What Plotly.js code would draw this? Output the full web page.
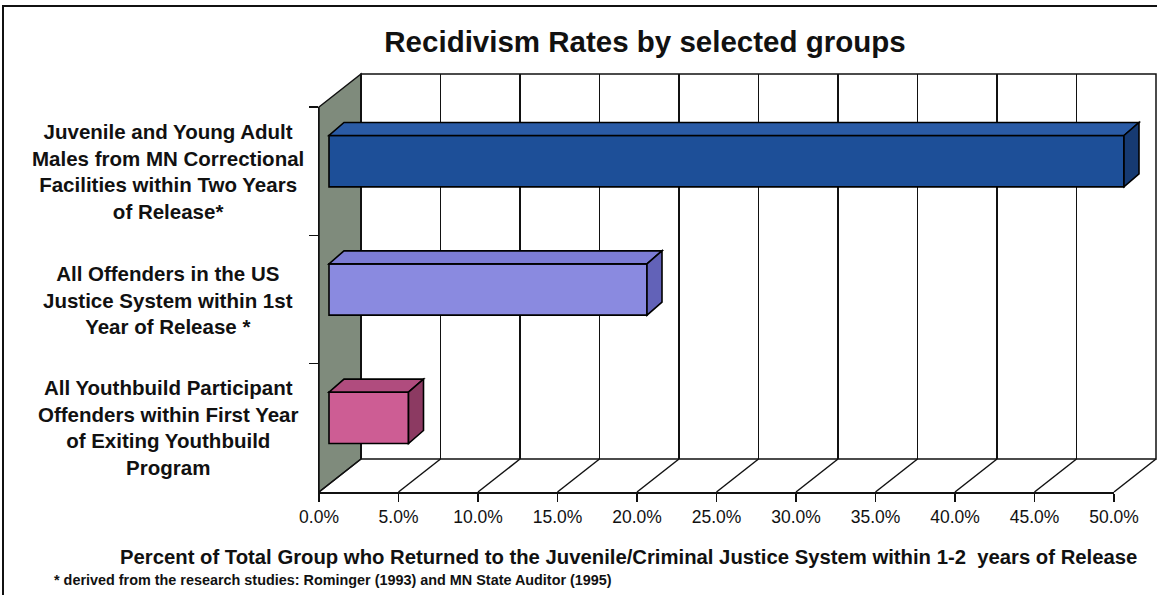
<!DOCTYPE html>
<html>
<head>
<meta charset="utf-8">
<script src="https://cdn.plot.ly/plotly-3.0.1.min.js"></script>
<style>html,body{margin:0;padding:0;background:#fff;}#chart{width:1157px;height:595px;}</style>
</head>
<body>
<div id="chart"></div>
<script>
// ---- data ----
const categories = [
  "Juvenile and Young Adult<br>Males from MN Correctional<br>Facilities within Two Years<br>of Release*",
  "All Offenders in the US<br>Justice System within 1st<br>Year of Release *",
  "All Youthbuild Participant<br>Offenders within First Year<br>of Exiting Youthbuild<br>Program"
];
const values = [50, 20, 5];
const tickValues = [0, 5, 10, 15, 20, 25, 30, 35, 40, 45, 50];
const tickLabels = ["0.0%", "5.0%", "10.0%", "15.0%", "20.0%", "25.0%", "30.0%", "35.0%", "40.0%", "45.0%", "50.0%"];
const titleText = "<b>Recidivism Rates by selected groups</b>";
const xTitleText = "<b>Percent of Total Group who Returned to the Juvenile/Criminal Justice System within 1-2  years of Release</b>";
const noteText = "<b>* derived from the research studies: Rominger (1993) and MN State Auditor (1995)</b>";

// ---- styles ----
const frontColors = ["#1d4f98", "#8a8ae0", "#cd5d94"];
const topColors   = ["#2a5ba6", "#7c7cd4", "#b04c7e"];
const sideColors  = ["#163a72", "#6262b8", "#8c3a62"];

const sans = '"Liberation Sans", Arial, sans-serif';

// ---- geometry of the pseudo-3D frame (pixels) ----
const W = 1157, H = 595;
const m = {l: 319, r: 0, t: 74, b: 103};
const PW = W - m.l - m.r, PH = H - m.t - m.b;
const FRONT_END = 1114;
const SCALE = (FRONT_END - m.l) / 50;
const DX = 42, DY = 33;
const BX = 10, BY = 10;
const BDX = 15, BDY = 13;
const px = x => (x - m.l) / PW;
const py = y => (H - m.b - y) / PH;
const frontTop = 107, frontBottom = H - m.b, backTop = m.t, backBottom = frontBottom - DY;

// ---- traces ----
const ghostBack = {type: 'scatter', x: [0], y: [0], mode: 'none', xaxis: 'x', yaxis: 'y', hoverinfo: 'skip'};
const ghostFront = {type: 'scatter', x: categories.map(() => 0), y: categories, mode: 'none', xaxis: 'x2', yaxis: 'y2', hoverinfo: 'skip'};
const bars = {
  type: 'bar', orientation: 'h', y: categories, x: values, xaxis: 'x3', yaxis: 'y3',
  marker: {color: frontColors, line: {color: '#000', width: 1.6}}, hoverinfo: 'x+y'
};

const hw = 0.2;
const ddx = BDX / SCALE;
const band = (frontBottom - frontTop) / 3;
const ddy = BDY / band;
const shapes = [];
shapes.push({type: 'rect', xref: 'paper', yref: 'paper', x0: px(m.l + DX), x1: px(W - 1), y0: py(backBottom), y1: py(backTop),
  fillcolor: 'rgba(0,0,0,0)', line: {color: '#111', width: 1.5}, layer: 'below'});
shapes.push({type: 'path', xref: 'paper', yref: 'paper', layer: 'below',
  path: `M ${px(m.l)},${py(frontTop)} L ${px(m.l + DX)},${py(backTop)} L ${px(m.l + DX)},${py(backBottom)} L ${px(m.l)},${py(frontBottom)} Z`,
  fillcolor: '#7f8b7c', line: {color: '#111', width: 1.5}});
tickValues.forEach(v => {
  const fx = m.l + v * SCALE;
  shapes.push({type: 'line', xref: 'paper', yref: 'paper', layer: 'below',
    x0: px(fx), y0: py(frontBottom), x1: px(fx + DX), y1: py(backBottom), line: {color: '#111', width: 1.5}});
});
values.forEach((v, i) => {
  shapes.push({type: 'path', xref: 'x3', yref: 'y3', layer: 'above',
    path: `M 0,${i - hw} L ${v},${i - hw} L ${v + ddx},${i - hw - ddy} L ${ddx},${i - hw - ddy} Z`,
    fillcolor: topColors[i], line: {color: '#000', width: 1.6}});
  shapes.push({type: 'path', xref: 'x3', yref: 'y3', layer: 'above',
    path: `M ${v},${i - hw} L ${v + ddx},${i - hw - ddy} L ${v + ddx},${i + hw - ddy} L ${v},${i + hw} Z`,
    fillcolor: sideColors[i], line: {color: '#000', width: 1.6}});
});
shapes.push({type: 'rect', xref: 'paper', yref: 'paper', x0: px(3), x1: px(1250), y0: py(700), y1: py(6),
  fillcolor: 'rgba(0,0,0,0)', line: {width: 2, color: '#111'}});

const annotations = categories.map(c => ({
  xref: 'paper', yref: 'y2', x: px(168), y: c, xanchor: 'center', yanchor: 'middle', align: 'center',
  text: '<b>' + c + '</b>', showarrow: false, font: {family: sans, size: 20.5, color: '#111'}
}));
annotations.push(
  {xref: 'paper', yref: 'paper', x: px(118), y: py(557), xanchor: 'left', yanchor: 'middle',
   text: xTitleText, showarrow: false, font: {family: sans, size: 20.3, color: '#111'}},
  {xref: 'paper', yref: 'paper', x: px(52), y: py(580), xanchor: 'left', yanchor: 'middle',
   text: noteText, showarrow: false, font: {family: sans, size: 14.4, color: '#111'}}
);

const layout = {
  width: W, height: H, margin: m,
  paper_bgcolor: '#fff', plot_bgcolor: 'rgba(0,0,0,0)',
  showlegend: false, bargap: 0.6,
  title: {text: titleText, xref: 'paper', x: px(645), xanchor: 'center', y: 1 - 42 / H, yanchor: 'middle',
          font: {family: sans, size: 29.5, color: '#111'}},
  xaxis: {domain: [0, 1], anchor: 'y', range: [-DX / SCALE, (W - m.l - DX) / SCALE],
          tickvals: tickValues, showgrid: true, gridcolor: '#111', gridwidth: 1.5,
          showticklabels: false, ticks: '', zeroline: false, showline: false, fixedrange: true},
  yaxis: {domain: [py(backBottom), 1], anchor: 'x', range: [0, 1], visible: false, fixedrange: true},
  xaxis2: {domain: [0, px(FRONT_END)], anchor: 'y2', range: [0, 50],
           tickvals: tickValues, ticktext: tickLabels, showgrid: false, zeroline: false,
           showline: true, linecolor: '#111', linewidth: 1.5,
           ticks: 'outside', ticklen: 8, tickwidth: 1.5, tickcolor: '#111',
           tickfont: {family: sans, size: 17.5, color: '#111'}, fixedrange: true},
  yaxis2: {domain: [0, py(frontTop)], anchor: 'x2', type: 'category', range: [2.5, -0.5],
           showticklabels: false, showgrid: false, zeroline: false,
           showline: true, linecolor: '#111', linewidth: 1.5,
           ticks: 'outside', tickson: 'boundaries', ticklen: 9, tickwidth: 1.5, tickcolor: '#111', fixedrange: true},
  xaxis3: {domain: [0, 1], anchor: 'y3', range: [-BX / SCALE, (W - m.l - BX) / SCALE], visible: false, fixedrange: true},
  yaxis3: {domain: [py(frontBottom - BY), py(frontTop - BY)], anchor: 'x3', type: 'category', range: [2.5, -0.5],
           visible: false, fixedrange: true},
  shapes: shapes,
  annotations: annotations
};

Plotly.newPlot('chart', [ghostBack, ghostFront, bars], layout, {displayModeBar: false, staticPlot: true});
</script>
</body>
</html>
